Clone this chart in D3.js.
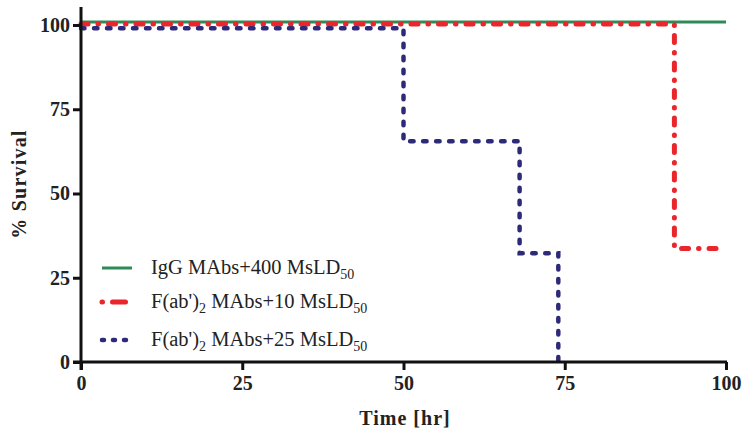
<!DOCTYPE html>
<html><head><meta charset="utf-8">
<script src="https://cdn.jsdelivr.net/npm/d3@7"></script>
<style>body{margin:0;background:#fff}svg{display:block}</style>
</head><body><svg id="c" width="747" height="437"></svg>
<script>
const xTicks = [0, 25, 50, 75, 100];
const yTicks = [0, 25, 50, 75, 100];
const seriesNames = ["IgG MAbs+400 MsLD", "F(ab')₂ MAbs+10 MsLD", "F(ab')₂ MAbs+25 MsLD"];
const iggTime = [0, 100];
const iggSurv = [100.9, 100.9];
const f10Time = [0, 92, 92, 100];
const f10Surv = [100.3, 100.3, 33.7, 33.7];
const f25Time = [0, 50, 50, 68, 68, 74, 74];
const f25Surv = [99, 99, 65.5, 65.5, 32.3, 32.3, 0];

const svg = d3.select("#c");
const font = "'Liberation Serif', serif";
const x = d3.scaleLinear().domain([0, 100]).range([81, 726]);
const y = d3.scaleLinear().domain([0, 100]).range([362, 25]);

const series = [
  {pre: "IgG MAbs+400 MsLD", sub2: false, t: iggTime, s: iggSurv, color: "#2e8b57", w: 3, dash: null, legDash: null},
  {pre: "F(ab')", mid: " MAbs+10 MsLD", sub2: true, t: f10Time, s: f10Surv, color: "#e8262b", w: 5, dash: "7,10,0.5,10", legDash: "0.5,10,13,100"},
  {pre: "F(ab')", mid: " MAbs+25 MsLD", sub2: true, t: f25Time, s: f25Surv, color: "#2e2a7a", w: 4.5, dash: "3.5,9.5", legDash: "2,9"}
];

// lines
series.forEach(sr => {
  const pts = sr.t.map((t, i) => [t, sr.s[i]]);
  svg.append("path")
    .attr("d", d3.line().x(d => x(d[0])).y(d => y(d[1]))(pts))
    .attr("fill", "none").attr("stroke", sr.color).attr("stroke-width", sr.w)
    .attr("stroke-linecap", sr.dash ? "round" : "butt")
    .attr("stroke-dasharray", sr.dash);
});

// axes
const xAxis = svg.append("g").attr("transform", "translate(0,362)")
  .call(d3.axisBottom(x).tickValues(xTicks).tickSize(8).tickPadding(6).tickSizeOuter(0));
const yAxis = svg.append("g").attr("transform", "translate(81,0)")
  .call(d3.axisLeft(y).tickValues(yTicks).tickSize(8).tickPadding(3).tickSizeOuter(0));
[xAxis, yAxis].forEach(g => {
  g.select(".domain").attr("stroke", "#111").attr("stroke-width", 3);
  g.selectAll(".tick line").attr("stroke", "#111").attr("stroke-width", 3);
  g.selectAll(".tick text").attr("font-family", font).attr("font-size", 20)
    .attr("font-weight", "bold").attr("fill", "#222");
});
yAxis.select(".domain").attr("d", "M0,7V370");
xAxis.select(".domain").attr("d", "M73,0H727");

// titles
svg.append("text").attr("transform", "translate(26,184) rotate(-90)")
  .attr("text-anchor", "middle").attr("font-family", font).attr("font-size", 20)
  .attr("font-weight", "bold").attr("letter-spacing", 1.2).attr("fill", "#222").text("% Survival");
svg.append("text").attr("x", 405).attr("y", 425)
  .attr("text-anchor", "middle").attr("font-family", font).attr("font-size", 20)
  .attr("font-weight", "bold").attr("letter-spacing", 1).attr("fill", "#222").text("Time [hr]");

// legend
const legY = [268, 302, 340];
series.forEach((sr, i) => {
  const ly = legY[i];
  svg.append("line").attr("x1", 102).attr("x2", 132).attr("y1", ly).attr("y2", ly)
    .attr("stroke", sr.color).attr("stroke-width", sr.w)
    .attr("stroke-linecap", sr.dash ? "round" : "butt")
    .attr("stroke-dasharray", sr.legDash);
  const t = svg.append("text").attr("x", 151).attr("y", ly + 6)
    .attr("font-family", font).attr("font-size", 20.5).attr("fill", "#222");
  t.append("tspan").text(sr.pre);
  if (sr.sub2) {
    t.append("tspan").attr("font-size", 14).attr("dy", 5).text("2");
    t.append("tspan").attr("dy", -5).text(sr.mid);
  }
  t.append("tspan").attr("font-size", 14).attr("dy", 5).text("50");
});
</script></body></html>
